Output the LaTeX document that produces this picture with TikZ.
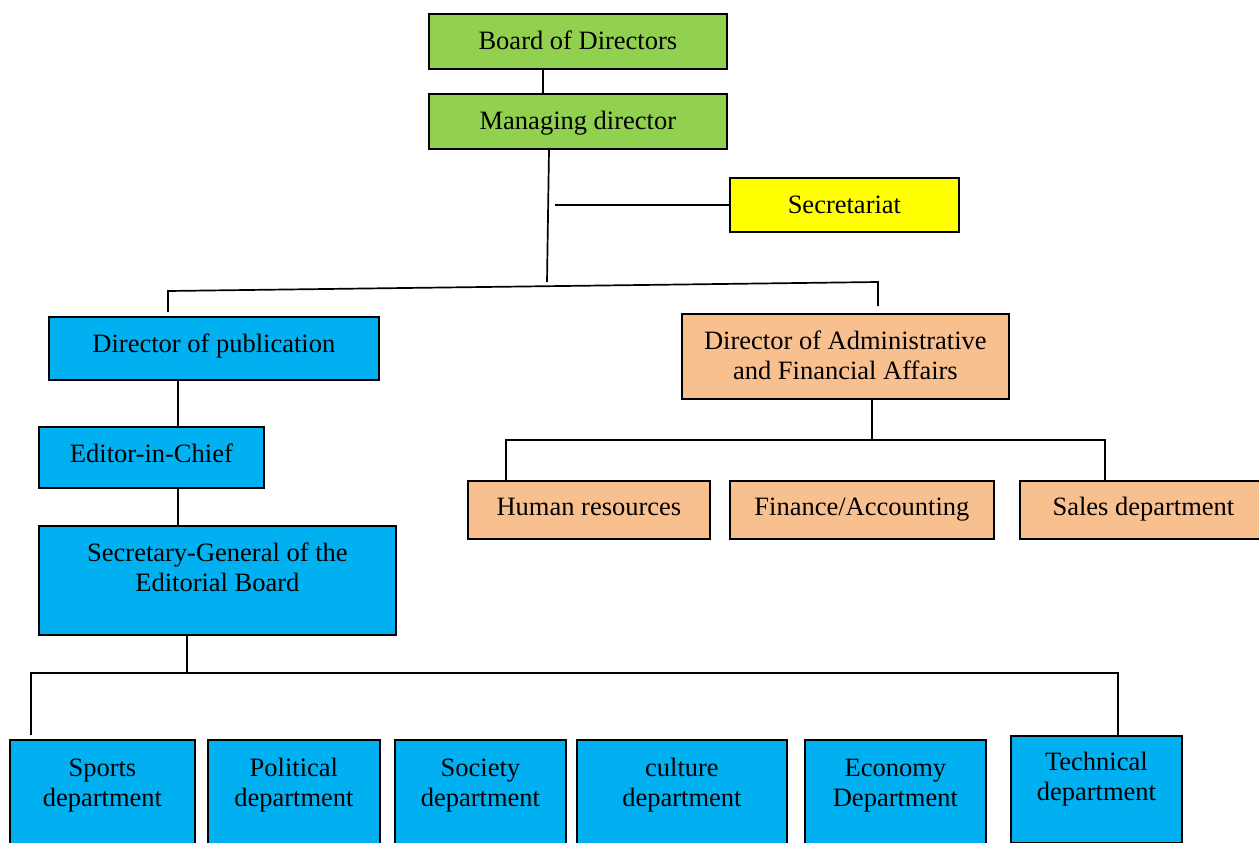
\documentclass[tikz,border=0pt]{standalone}
\usepackage{fontspec}
\setmainfont{Liberation Serif}
\definecolor{bgreen}{HTML}{92D050}
\definecolor{byellow}{HTML}{FFFF00}
\definecolor{bblue}{HTML}{00B0F0}
\definecolor{bpeach}{HTML}{F9C08F}
\newcommand{\cellbox}[4][15pt]{\parbox[c][#3][t]{#2}{\centering\vspace*{#1}\strut #4}}
\tikzset{
  orgbox/.style={draw=black, line width=1.8pt, inner sep=0pt, anchor=north west, font=\fontsize{26.5}{30}\selectfont},
  conn/.style={draw=black, line width=1.7pt},
}
\begin{document}
\begin{tikzpicture}[x=1pt,y=-1pt]
\path[use as bounding box] (0,0) rectangle (1259,843);
\clip (0,0) rectangle (1259,843);

% top level
\node[orgbox, fill=bgreen] (board) at (428,13) {\cellbox{298pt}{55pt}{Board of Directors}};
\node[orgbox, fill=bgreen] (md) at (428,93) {\cellbox{298pt}{55pt}{Managing director}};
\node[orgbox, fill=byellow] (sec) at (729,177) {\cellbox{229pt}{54pt}{Secretariat}};

% second level
\node[orgbox, fill=bblue] (pub) at (48,316) {\cellbox{330pt}{63pt}{Director of publication}};
\node[orgbox, fill=bpeach] (adm) at (681,313) {\cellbox{327pt}{85pt}{Director of Administrative\\and Financial Affairs}};

% editorial chain
\node[orgbox, fill=bblue] (eic) at (38,426) {\cellbox{225pt}{61pt}{Editor-in-Chief}};
\node[orgbox, fill=bblue] (sg) at (38,525) {\cellbox{357pt}{109pt}{Secretary-General of the\\Editorial Board}};

% administrative departments
\node[orgbox, fill=bpeach] (hr) at (467,480) {\cellbox[14pt]{242pt}{58pt}{Human resources}};
\node[orgbox, fill=bpeach] (fin) at (729,480) {\cellbox[14pt]{264pt}{58pt}{Finance/Accounting}};
\node[orgbox, fill=bpeach] (sales) at (1019,480) {\cellbox[14pt]{247pt}{58pt}{Sales department}};

% editorial departments
\node[orgbox, fill=bblue] (sports) at (9,739) {\cellbox[16pt]{185pt}{140pt}{Sports\\department}};
\node[orgbox, fill=bblue] (pol) at (207,739) {\cellbox[16pt]{172pt}{140pt}{Political\\department}};
\node[orgbox, fill=bblue] (soc) at (394,739) {\cellbox[16pt]{171pt}{140pt}{Society\\department}};
\node[orgbox, fill=bblue] (cul) at (576,739) {\cellbox[16pt]{210pt}{140pt}{culture\\department}};
\node[orgbox, fill=bblue] (eco) at (804,739) {\cellbox[16pt]{181pt}{140pt}{Economy\\Department}};
\node[orgbox, fill=bblue] (tech) at (1010,735) {\cellbox[14pt]{171pt}{107pt}{Technical\\department}};

% connectors
\coordinate (c1) at (543,0);
\draw[conn] (board.south -| c1) -- (md.north -| c1);

\coordinate (mdx) at (549,0);
\coordinate (trunkend) at (547,282);
\draw[conn] (md.south -| mdx) -- (trunkend);

\coordinate (secj) at (555,0);
\draw[conn] (sec.west -| secj) -- (sec.west);

\coordinate (busL) at (168,291);
\coordinate (busR) at (878,282);
\draw[conn, shorten <=4pt, shorten >=7pt] (pub.north -| busL) -- (busL) -- (busR) -- (adm.north -| busR);

\coordinate (x178) at (178,0);
\draw[conn] (pub.south -| x178) -- (eic.north -| x178);
\draw[conn] (eic.south -| x178) -- (sg.north -| x178);

\coordinate (x187) at (187,673);
\draw[conn] (sg.south -| x187) -- (x187);

\coordinate (bL) at (31,673);
\coordinate (bR) at (1118,673);
\draw[conn, shorten <=4pt] (sports.north -| bL) -- (bL) -- (bR) -- (tech.north -| bR);

\coordinate (ax) at (872,440);
\coordinate (ax0) at (872,0);
\draw[conn] (adm.south -| ax0) -- (ax);

\coordinate (aL) at (506,440);
\coordinate (aR) at (1105,440);
\draw[conn] (hr.north -| aL) -- (aL) -- (aR) -- (sales.north -| aR);
\end{tikzpicture}
\end{document}
